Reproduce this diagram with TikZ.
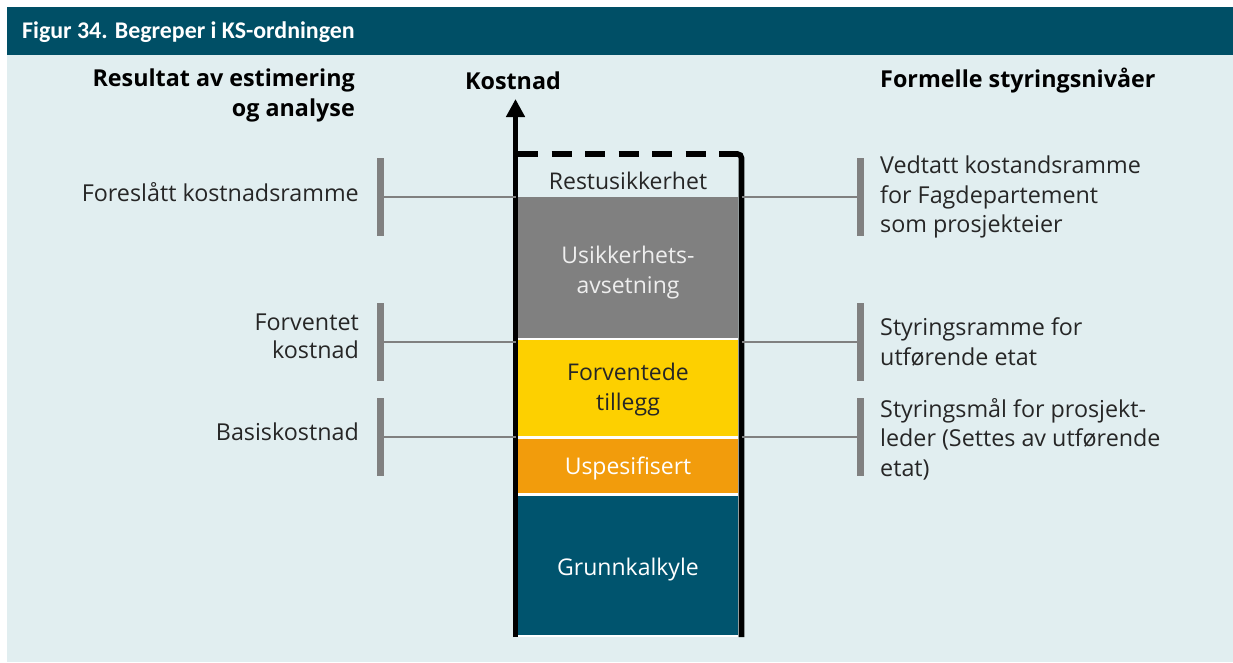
\documentclass[tikz,border=0pt]{standalone}
\usepackage{fontspec}
\setmainfont{Open Sans}
\newfontfamily\titlefont{Carlito}
\usetikzlibrary{arrows.meta}

\definecolor{hdrblue}{HTML}{004F66}
\definecolor{bgblue}{HTML}{E1EEF0}
\definecolor{tealblk}{HTML}{00546E}
\definecolor{grayblk}{HTML}{808080}
\definecolor{yellowblk}{HTML}{FDD000}
\definecolor{orangeblk}{HTML}{F29C0C}
\definecolor{txt}{HTML}{262626}
\definecolor{lighttxt}{HTML}{EEEEEE}

\tikzset{
  lbl/.style={font=\fontsize{23.3}{29.5}\selectfont, text=txt, inner sep=0pt},
  boxlbl/.style={font=\fontsize{23}{30}\selectfont, text=txt, inner sep=0pt},
  hdr/.style={font=\bfseries\fontsize{23.3}{30}\selectfont, text=black, inner sep=0pt},
  blk/.style={rectangle, minimum width=220pt, inner sep=0pt, draw=none},
  bracket/.style={rectangle, fill=grayblk, minimum width=7pt, minimum height=78pt, inner sep=0pt},
  conn/.style={draw=grayblk, line width=2.8pt},
  wall/.style={line width=5.6pt, black},
}

\begin{document}
\begin{tikzpicture}[x=1pt,y=-1pt]
\useasboundingbox (0,0) rectangle (1233,662);
\fill[white] (0,0) rectangle (1233,662);
\fill[bgblue] (7,55) rectangle (1233,662);
\fill[hdrblue] (7,7) rectangle (1233,55);
\node[anchor=west, text=white, inner sep=0pt, font=\titlefont\bfseries\fontsize{23.9}{26}\selectfont] (title) at (22,32) {Figur 34. Begreper i KS-ordningen};

% column headings
\node[hdr, anchor=east, align=right] (hleft) at (355,95) {Resultat av estimering\\og analyse};
\node[hdr] (hmid) at (513,81) {Kostnad};
\node[hdr, anchor=west] (hright) at (880,81) {Formelle styringsnivåer};

% cost stack
\fill[white] (518,336) rectangle (738,637);
\node[blk, fill=grayblk, minimum height=141pt] (usik) at (628,267.5) {};
\node[blk, fill=yellowblk, minimum height=96pt] (forv) at (628,388) {};
\node[blk, fill=orangeblk, minimum height=54pt] (uspes) at (628,466) {};
\node[blk, fill=tealblk, minimum height=139pt] (grunn) at (628,565.5) {};

\node[boxlbl] (trest) at (628,181) {Restusikkerhet};
\node[boxlbl, text=lighttxt, align=center] (tusik) at (628,272.5) {Usikkerhets-\\avsetning};
\node[boxlbl, align=center] (tforv) at (628,390) {Forventede\\tillegg};
\node[boxlbl, text=white] (tuspes) at (628,468) {Uspesifisert};
\node[boxlbl, text=white] (tgrunn) at (628,569.5) {Grunnkalkyle};

% axis and walls
\coordinate (axbot) at (515.5,637);
\coordinate (axtop) at (515.5,99);
\coordinate (rwbot) at (741.5,637);
\coordinate (rwtop) at (741.5,154);
\coordinate (dashend) at (722,154);
\draw[wall, -{Triangle[width=18pt,length=18pt]}] (axbot) -- (axtop);
\draw[wall, rounded corners=4pt] (rwbot) -- (rwtop) -- (dashend);
\draw[wall, dash pattern=on 20pt off 13.5pt] (518,154) -- (dashend);

% level brackets
\node[bracket] (bl1) at (380,197) {};
\node[bracket] (bl2) at (380,342) {};
\node[bracket] (bl3) at (380,437) {};
\node[bracket] (br1) at (860.5,197) {};
\node[bracket] (br2) at (860.5,342) {};
\node[bracket] (br3) at (860.5,437) {};

\draw[conn] (bl1.center) -- (bl1.center -| axbot);
\draw[conn] (bl2.center) -- (bl2.center -| axbot);
\draw[conn] (bl3.center) -- (bl3.center -| axbot);
\draw[conn] (br1.center) -- (br1.center -| rwbot);
\draw[conn] (br2.center) -- (br2.center -| rwbot);
\draw[conn] (br3.center) -- (br3.center -| rwbot);

% left labels
\node[lbl, anchor=east] (l1) at (359,192) {Foreslått kostnadsramme};
\node[lbl, anchor=east, align=right, font=\fontsize{23.3}{28}\selectfont] (l2) at (359,336) {Forventet\\kostnad};
\node[lbl, anchor=east] (l3) at (359,432) {Basiskostnad};

% right labels
\node[lbl, anchor=west, align=left] (r1) at (880,197) {Vedtatt kostandsramme\\for Fagdepartement\\som prosjekteier};
\node[lbl, anchor=west, align=left] (r2) at (880,342) {Styringsramme for\\utførende etat};
\node[lbl, anchor=west, align=left] (r3) at (880,439) {Styringsmål for prosjekt-\\leder (Settes av utførende\\etat)};
\end{tikzpicture}
\end{document}
